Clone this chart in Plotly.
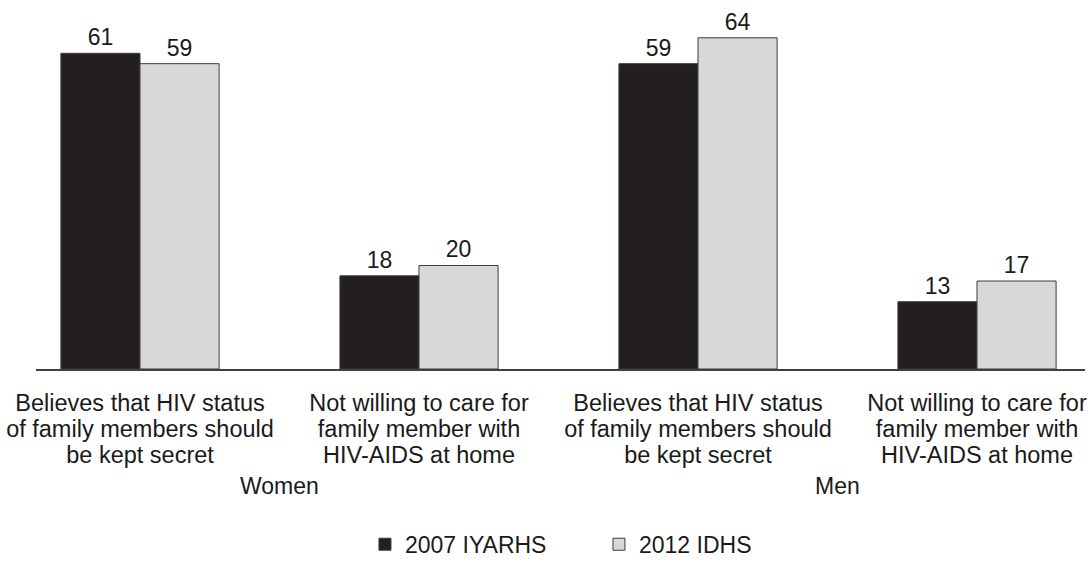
import plotly.graph_objects as go

# Attitudes towards people living with HIV, by sex and survey
groups = ["Women", "Men"]
items = [
    ["Believes that HIV status", "of family members should", "be kept secret"],
    ["Not willing to care for", "family member with", "HIV-AIDS at home"],
]
surveys = ["2007 IYARHS", "2012 IDHS"]
values_2007 = [61, 18, 59, 13]
values_2012 = [59, 20, 64, 17]

FONT = "Liberation Sans, Arial, Helvetica, sans-serif"
TEXT = "#1a1a1a"
OUTLINE = "#3c3c3c"
LABEL_PX = 23.5


def wrap(lines):
    # larger glyphs inside a smaller base font keep the line pitch tight
    return "<br>".join(
        f'<span style="font-size:{LABEL_PX}px">{ln}</span>' for ln in lines
    )


tick_labels = [wrap(it) for g in groups for it in items]
positions = list(range(len(tick_labels)))

fig = go.Figure()
for name, vals, color in [
    (surveys[0], values_2007, "#231f20"),
    (surveys[1], values_2012, "#d7d8da"),
]:
    fig.add_trace(go.Bar(
        x=positions,
        y=vals,
        name=name,
        text=[str(v) for v in vals],
        textposition="outside",
        textfont=dict(family=FONT, size=23, color=TEXT),
        marker=dict(color=color, line=dict(color=OUTLINE, width=1)),
        cliponaxis=False,
    ))

# Group captions centred under each pair of categories
n_items = len(items)
for gi, g in enumerate(groups):
    centre = gi * n_items + (n_items - 1) / 2
    fig.add_annotation(
        x=centre, xref="x", y=-0.3173, yref="paper",
        text=g, showarrow=False, yanchor="middle",
        font=dict(family=FONT, size=23, color=TEXT),
    )

fig.update_layout(
    width=1090, height=566,
    margin=dict(l=36, r=5, t=0, b=191),
    paper_bgcolor="white", plot_bgcolor="white",
    barmode="group", bargap=0.433, bargroupgap=0,
    font=dict(family=FONT, size=23, color=TEXT),
    showlegend=True,
    legend=dict(
        orientation="h", x=0.3136, xanchor="left", y=-0.475, yanchor="middle",
        font=dict(family=FONT, size=23, color=TEXT),
        entrywidth=189, entrywidthmode="pixels",
        itemclick=False, itemdoubleclick=False,
    ),
    xaxis=dict(
        range=[-0.3728, 3.3871],
        tickmode="array", tickvals=positions, ticktext=tick_labels,
        tickfont=dict(family=FONT, size=20, color=TEXT),
        showline=True, linecolor="#404040", linewidth=1.5,
        showgrid=False, zeroline=False, ticks="",
        ticklabelstandoff=16,
        fixedrange=True,
    ),
    yaxis=dict(
        range=[0, 71.3], visible=False, showgrid=False, zeroline=False,
        fixedrange=True,
    ),
)

fig.write_html("out.html", config={"displayModeBar": False})
